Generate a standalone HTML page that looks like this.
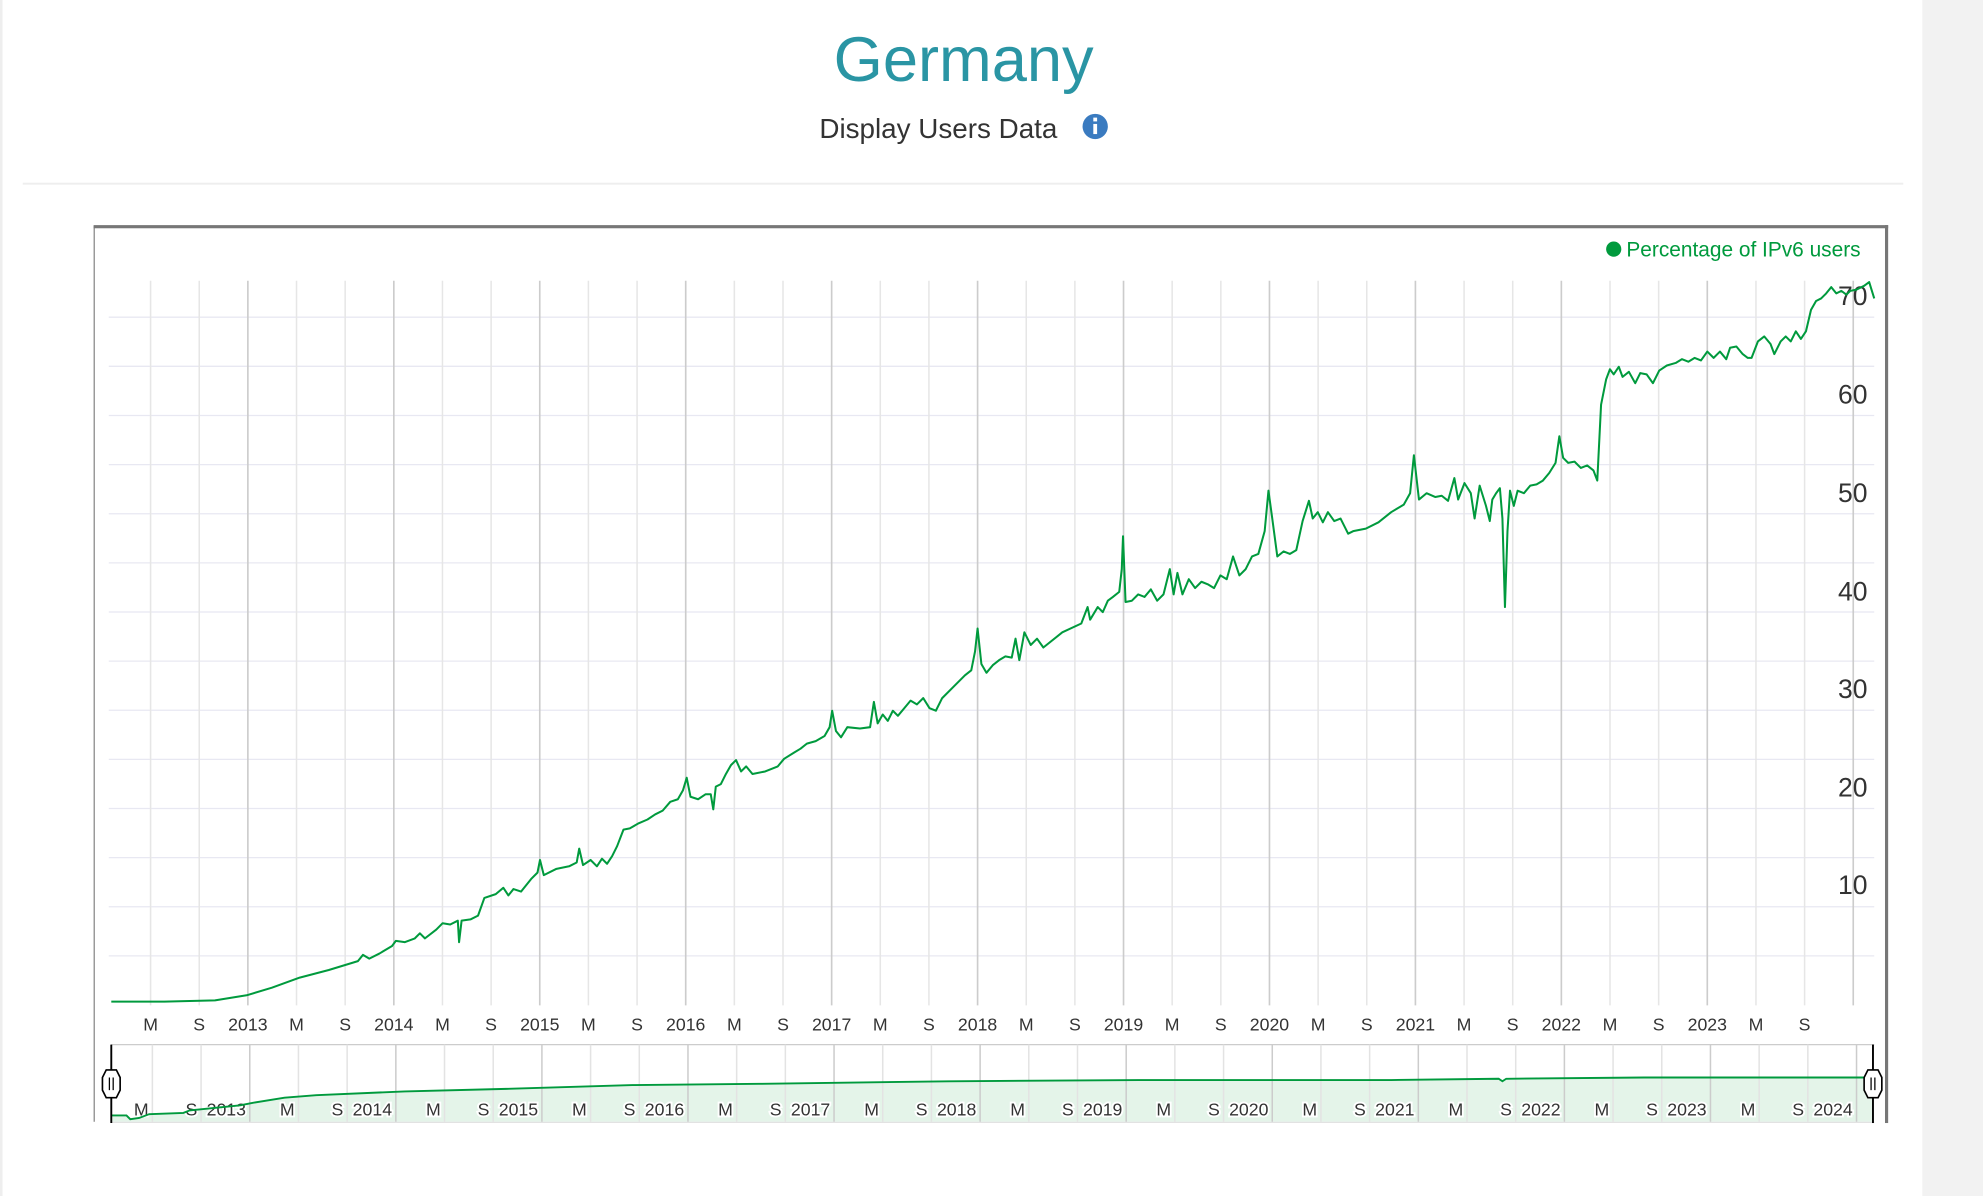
<!DOCTYPE html>
<html><head><meta charset="utf-8"><style>
html,body{margin:0;padding:0;background:#fff;width:1983px;height:1196px;overflow:hidden}
svg{display:block}
</style></head><body>
<svg width="1983" height="1196" viewBox="0 0 1568 945.7" xmlns="http://www.w3.org/2000/svg" font-family="Liberation Sans, Arial, sans-serif">
<rect x="0" y="0" width="1568" height="946" fill="#fff"/>
<rect x="1520" y="0" width="48" height="946" fill="#f2f2f2"/>
<rect x="0" y="0" width="2" height="946" fill="#eee"/>
<text x="762" y="64" text-anchor="middle" font-size="50" fill="#2a95a4">Germany</text>
<text x="742" y="109" text-anchor="middle" font-size="22" fill="#333">Display Users Data</text>
<circle cx="866" cy="100" r="10" fill="#3a7bc0"/>
<rect x="864.5" y="98" width="3" height="8" fill="#fff"/><rect x="864.5" y="93" width="3" height="3" fill="#fff"/>
<rect x="18" y="144.5" width="1487" height="1.5" fill="#eee"/>
<rect x="74" y="179" width="1" height="708" fill="#888"/>
<rect x="74" y="178" width="1419" height="2.5" fill="#777"/>
<rect x="1490.5" y="178" width="2.5" height="710" fill="#777"/>
<circle cx="1276" cy="197" r="6" fill="#009a3d"/>
<text x="1286" y="203" font-size="16.5" fill="#009a3d">Percentage of IPv6 users</text>
<g id="grid"></g>
<g id="nav"></g>
<g id="ylab" font-size="21" fill="#333" text-anchor="middle">
<text x="1465" y="241">70</text><text x="1465" y="319">60</text><text x="1465" y="397">50</text><text x="1465" y="475">40</text><text x="1465" y="552">30</text><text x="1465" y="630">20</text><text x="1465" y="707">10</text>
</g>
<polyline id="main" fill="none" stroke="#009a3d" stroke-width="1.6" stroke-linejoin="round" points=""/>
</svg>
<script>
var NS="http://www.w3.org/2000/svg";
function el(p,t,a,txt){var e=document.createElementNS(NS,t);for(var k in a)e.setAttribute(k,a[k]);if(txt)e.textContent=txt;p.appendChild(e);return e;}
var g=document.getElementById('grid');
for(var k=1;k<=14;k++){var y=794.7-38.85*k;el(g,'line',{x1:86,x2:1482,y1:y,y2:y,stroke:'#e8e8f2','stroke-width':1});}
for(var n=-1;n<=11;n++){
 var yx=196+115.4*n;
 [[yx,'y'],[yx+38.47,'M'],[yx+76.93,'S']].forEach(function(a){
  var x=a[0];if(x<86||x>1482)return;
  el(g,'line',{x1:x,x2:x,y1:222,y2:795,stroke:a[1]=='y'?'#ccc':'#e6e6e6','stroke-width':a[1]=='y'?1.3:1.2});
  if(x>1440)return;
  var t=a[1]=='y'?String(2013+n):a[1];
  el(g,'text',{x:x,y:815,'text-anchor':'middle','font-size':14,fill:'#333'},t);
 });
}
var nv=document.getElementById('nav');
var nl=[[88,882],[100,882],[103,885],[110,884],[118,881],[145,880],[150,878],[190,874],[200,872],[225,868],[250,866],[320,863],[400,861],[500,858],[600,857],[750,855],[900,854],[1100,854],[1185,853],[1188,855],[1191,853],[1300,852],[1481,852]];
var ps=nl.map(function(p){return p.join(',')}).join(' ');
el(nv,'polygon',{points:ps+' 1481,887 88,887',fill:'#e4f4e9'});
el(nv,'line',{x1:88,x2:1482,y1:826,y2:826,stroke:'#ccc','stroke-width':1});
el(nv,'line',{x1:88,x2:1482,y1:887.5,y2:887.5,stroke:'#e2e2e2','stroke-width':1});
for(var n=-1;n<=11;n++){
 var yx=197.5+115.5*n;
 [[yx,'y'],[yx+38.5,'M'],[yx+77,'S']].forEach(function(a){
  var x=a[0];if(x<89||x>1481)return;
  el(nv,'line',{x1:x,x2:x,y1:826,y2:887,stroke:a[1]=='y'?'#ccc':'#e3e3e3','stroke-width':1.2});
  var t=a[1]=='y'?String(2013+n):a[1];
  el(nv,'text',{x:x-3,y:882,'text-anchor':'end','font-size':14,fill:'#333',stroke:'#fff','stroke-width':3,'paint-order':'stroke'},t);
 });
}
el(nv,'polyline',{points:ps,fill:'none',stroke:'#009a3d','stroke-width':1.5});
[88,1481].forEach(function(x){
 el(nv,'line',{x1:x,x2:x,y1:826,y2:888,stroke:'#000','stroke-width':1.5});
 el(nv,'path',{d:'M'+(x-7)+',852 L'+(x-4)+',846 L'+(x+4)+',846 L'+(x+7)+',852 L'+(x+7)+',862 L'+(x+4)+',868 L'+(x-4)+',868 L'+(x-7)+',862 Z',fill:'#fff',stroke:'#000','stroke-width':1.3});
 el(nv,'line',{x1:x-1.5,x2:x-1.5,y1:852,y2:862,stroke:'#000','stroke-width':1});
 el(nv,'line',{x1:x+1.5,x2:x+1.5,y1:852,y2:862,stroke:'#000','stroke-width':1});
});
var d=[[88,792],[130,792],[170,791],[195,787],[215,781],[237,773],[260,767],[283,760],[287,755],[292,758],[300,754],[310,748],[313,744],[320,745],[328,742],[332,738],[336,742],[345,735],[350,730],[356,731],[362,728],[363,745],[365,728],[372,727],[378,724],[383,710],[392,707],[398,702],[402,708],[406,703],[412,705],[420,695],[425,690],[427,680],[430,692],[440,687],[450,685],[456,682],[458,671],[461,684],[467,680],[472,685],[476,679],[480,683],[484,677],[488,669],[493,656],[498,655],[505,651],[512,648],[518,644],[524,641],[530,634],[536,632],[540,625],[543,615],[546,630],[552,632],[558,628],[562,628],[564,640],[566,622],[570,620],[574,612],[578,605],[582,601],[586,610],[590,606],[595,612],[605,610],[615,606],[620,600],[628,595],[633,592],[638,588],[645,586],[652,582],[656,575],[658,562],[661,578],[665,583],[670,575],[680,576],[688,575],[691,555],[694,572],[698,565],[702,570],[706,562],[710,566],[715,560],[720,554],[725,557],[730,552],[735,560],[740,562],[745,552],[755,542],[763,534],[768,530],[771,515],[773,497],[776,525],[780,532],[785,526],[790,522],[795,519],[800,520],[803,505],[806,522],[810,500],[815,510],[820,505],[825,512],[840,500],[855,493],[860,480],[862,490],[868,480],[872,484],[876,475],[880,472],[885,468],[887,450],[888,424],[890,476],[895,475],[900,470],[905,472],[910,466],[915,475],[920,470],[925,450],[928,470],[931,453],[935,470],[940,458],[945,465],[950,460],[955,462],[960,465],[965,455],[970,458],[975,440],[980,455],[985,450],[990,440],[995,438],[1000,420],[1003,388],[1006,410],[1010,440],[1015,436],[1020,438],[1025,435],[1030,412],[1035,396],[1038,410],[1042,405],[1046,413],[1050,405],[1055,412],[1060,410],[1066,422],[1070,420],[1080,418],[1090,413],[1100,405],[1105,402],[1110,399],[1115,390],[1118,360],[1122,395],[1128,390],[1135,393],[1140,392],[1145,396],[1150,378],[1153,395],[1158,382],[1163,390],[1166,410],[1170,384],[1175,400],[1178,412],[1180,395],[1183,390],[1186,386],[1188,410],[1190,480],[1192,420],[1194,388],[1197,400],[1200,388],[1205,390],[1210,384],[1215,383],[1220,380],[1225,374],[1230,366],[1233,345],[1236,362],[1240,366],[1245,365],[1250,370],[1255,368],[1260,372],[1263,380],[1266,320],[1270,300],[1273,292],[1276,296],[1280,290],[1283,298],[1288,294],[1293,303],[1297,295],[1302,296],[1307,303],[1312,293],[1318,289],[1325,287],[1330,284],[1335,286],[1340,283],[1345,285],[1350,278],[1355,283],[1360,278],[1365,284],[1368,275],[1373,274],[1378,280],[1382,283],[1385,283],[1390,270],[1395,266],[1400,272],[1403,280],[1408,270],[1412,266],[1416,270],[1420,262],[1424,268],[1428,262],[1432,245],[1436,238],[1440,236],[1444,232],[1448,227],[1452,232],[1456,230],[1460,233],[1463,230],[1468,229],[1474,226],[1478,223],[1482,236]];
document.getElementById('main').setAttribute('points',d.map(function(p){return p.join(',')}).join(' '));
</script>
</body></html>
